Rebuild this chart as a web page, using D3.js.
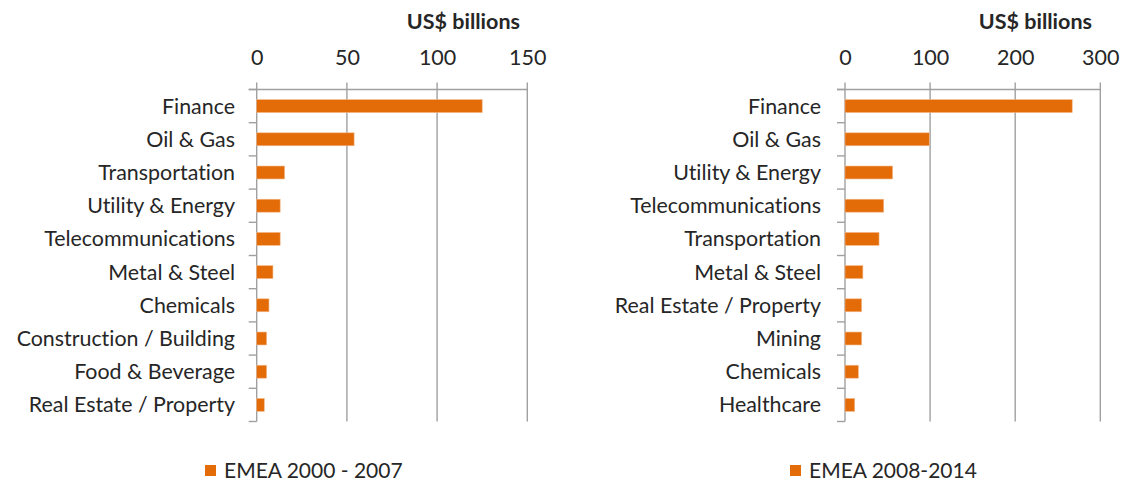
<!DOCTYPE html>
<html>
<head>
<meta charset="utf-8">
<script src="https://cdn.jsdelivr.net/npm/d3@7"></script>
<style>
  html, body { margin: 0; padding: 0; background: #fff; }
  svg { display: block; }
  text { font-family: Lato, "Open Sans", sans-serif; fill: #262626; font-variant-ligatures: none; font-feature-settings: "liga" 0, "clig" 0; }
</style>
</head>
<body>
<svg id="chart" width="1126" height="481"></svg>
<script>
// ---- Data ----
const categoriesA = ["Finance", "Oil & Gas", "Transportation", "Utility & Energy", "Telecommunications",
  "Metal & Steel", "Chemicals", "Construction / Building", "Food & Beverage", "Real Estate / Property"];
const valuesA = [125, 54, 15.5, 13, 13, 9, 6.8, 5.5, 5.5, 4.2];
const ticksA = [0, 50, 100, 150];
const seriesA = "EMEA 2000 - 2007";

const categoriesB = ["Finance", "Oil & Gas", "Utility & Energy", "Telecommunications", "Transportation",
  "Metal & Steel", "Real Estate / Property", "Mining", "Chemicals", "Healthcare"];
const valuesB = [267, 99, 56, 45.5, 40, 21, 19.6, 19.6, 15.7, 11.4];
const ticksB = [0, 100, 200, 300];
const seriesB = "EMEA 2008-2014";

const unitLabel = "US$ billions";

// ---- Drawing ----
const svg = d3.select("#chart");
const barColor = "#E36C09";
const gridColor = "#A0A0A0";
const plotTop = 89.5, plotBottom = 421.5;

function panel(cfg) {
  const g = svg.append("g");
  const x = d3.scaleLinear().domain([0, cfg.ticks[cfg.ticks.length - 1]]).range([cfg.x0, cfg.x1]);
  const y = d3.scaleBand().domain(cfg.categories).range([plotTop, plotBottom]).paddingInner(0.61).paddingOuter(0.305);

  // vertical gridlines (incl. outer ticks above the axis)
  g.selectAll("line.grid").data(cfg.ticks).join("line")
    .attr("x1", d => x(d)).attr("x2", d => x(d))
    .attr("y1", plotTop - 7).attr("y2", plotBottom)
    .attr("stroke", gridColor).attr("stroke-width", 1.4);

  // top axis (labels)
  const xAxis = d3.axisTop(x).tickValues(cfg.ticks).tickSize(0).tickPadding(0).tickFormat(d3.format("d"));
  const ax = g.append("g").attr("transform", `translate(0,${plotTop - 24.5})`).call(xAxis);
  ax.select(".domain").remove();
  ax.selectAll("text").attr("font-size", 21.5).attr("dy", "0").style("font-family", "Lato, sans-serif").attr("fill", "#262626");

  // horizontal axis line
  g.append("line").attr("x1", cfg.x0 - 8).attr("x2", cfg.x1)
    .attr("y1", plotTop).attr("y2", plotTop)
    .attr("stroke", gridColor).attr("stroke-width", 1.4);

  // left axis: band boundary ticks
  const step = y.step();
  const bounds = d3.range(cfg.categories.length + 1).map(i => plotTop + i * step);
  g.selectAll("line.ytick").data(bounds).join("line")
    .attr("x1", cfg.x0 - 8).attr("x2", cfg.x0)
    .attr("y1", d => d).attr("y2", d => d)
    .attr("stroke", gridColor).attr("stroke-width", 1.4);

  const yAxis = d3.axisLeft(y).tickSize(0).tickPadding(0);
  const ay = g.append("g").attr("transform", `translate(${cfg.labelRight},0)`).call(yAxis);
  ay.select(".domain").remove();
  ay.selectAll("text").attr("font-size", 21.4).attr("dy", "0.35em").style("font-family", "Lato, sans-serif").attr("fill", "#262626");

  // bars
  g.selectAll("rect.bar").data(cfg.values).join("rect")
    .attr("x", x(0))
    .attr("y", (d, i) => y(cfg.categories[i]))
    .attr("width", d => x(d) - x(0))
    .attr("height", y.bandwidth())
    .attr("fill", barColor)
    .attr("stroke", "#F3B98A").attr("stroke-width", 0.6);

  // unit label
  g.append("text").attr("x", cfg.unitRight).attr("y", 21).attr("dy", "0.35em")
    .attr("text-anchor", "end").attr("font-size", 21.5).attr("font-weight", "bold").text(unitLabel);

  // legend
  g.append("rect").attr("x", cfg.legendX).attr("y", 465).attr("width", 11).attr("height", 11).attr("fill", barColor);
  g.append("text").attr("x", cfg.legendX + 19).attr("y", 470.5).attr("dy", "0.35em")
    .attr("font-size", 21).text(cfg.series);
}

panel({ categories: categoriesA, values: valuesA, ticks: ticksA, series: seriesA,
  x0: 256.7, x1: 527.3, labelRight: 235, unitRight: 520, legendX: 205 });
panel({ categories: categoriesB, values: valuesB, ticks: ticksB, series: seriesB,
  x0: 845, x1: 1100.3, labelRight: 821, unitRight: 1092, legendX: 790 });
</script>
</body>
</html>
